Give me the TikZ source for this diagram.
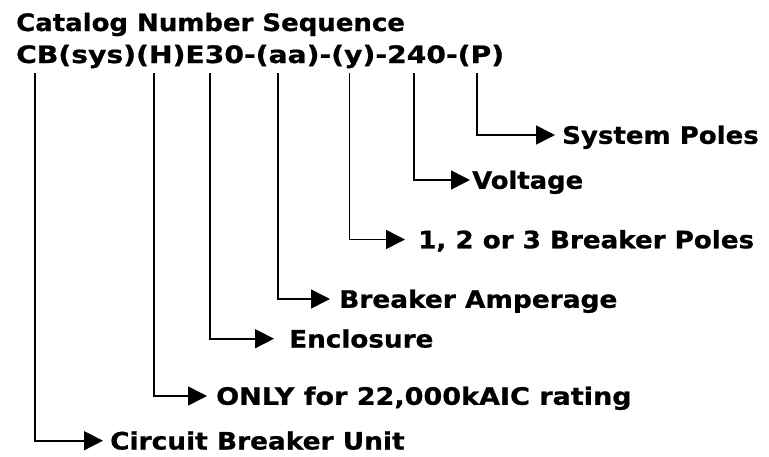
\documentclass[tikz,border=0pt]{standalone}
\usepackage{fontspec}
\usepackage{graphicx}
\setmainfont{DejaVu Sans}
\newfontfamily\heavyfont[FakeBold=0.8]{DejaVu Sans Bold}
\usetikzlibrary{arrows.meta}
\newcommand{\hsc}[2]{\scalebox{#1}[1]{#2}}
\begin{document}
\begin{tikzpicture}[x=1pt,y=-1pt,
  txt/.style={anchor=base west,inner sep=0pt,font=\fontsize{24}{28}\heavyfont},
  conn/.style={line width=1.6pt,-{Triangle[length=19pt,width=19pt]}}]
\useasboundingbox (0,0) rectangle (769,456);
\node[txt] (t1) at (16,31) {\hsc{1.082}{Catalog Number Sequence}};
\node[txt] (t2) at (16,63) {\hsc{1.175}{CB(sys)(H)E30-(aa)-(y)-240-(P)}};
% label nodes (baseline = arrow y + 8.8)
\node[txt] (lP) at (562,143.8) {\hsc{1.085}{System Poles}};
\node[txt] (lV) at (472,188.8) {\hsc{1.076}{Voltage}};
\node[txt] (lY) at (418,248.3) {\hsc{1.09}{1, 2 or 3 Breaker Poles}};
\node[txt] (lA) at (339,307.8) {\hsc{1.10}{Breaker Amperage}};
\node[txt] (lE) at (289,347.5) {\hsc{1.093}{Enclosure}};
\node[txt] (lH) at (216,404.8) {\hsc{1.126}{ONLY for 22,000kAIC rating}};
\node[txt] (lC) at (110,449.5) {\hsc{1.10}{Circuit Breaker Unit}};
% start points under the catalog string
\coordinate (sC) at (35,73);
\coordinate (sH) at (153.7,73);
\coordinate (sE) at (209.7,73);
\coordinate (sA) at (277.7,73);
\coordinate (sY) at (349.3,73);
\coordinate (sV) at (413.7,73);
\coordinate (sP) at (477,73);
% arrow tips
\coordinate (eP) at (555,135);
\coordinate (eV) at (470,180);
\coordinate (eY) at (405,239.5);
\coordinate (eA) at (330,299);
\coordinate (eE) at (274,338.7);
\coordinate (eH) at (207,396);
\coordinate (eC) at (103,440.7);
\draw[conn] (sP) |- (eP);
\draw[conn] (sV) |- (eV);
\draw[conn] (sY) |- (eY);
\draw[conn] (sA) |- (eA);
\draw[conn] (sE) |- (eE);
\draw[conn] (sH) |- (eH);
\draw[conn] (sC) |- (eC);
\end{tikzpicture}
\end{document}
